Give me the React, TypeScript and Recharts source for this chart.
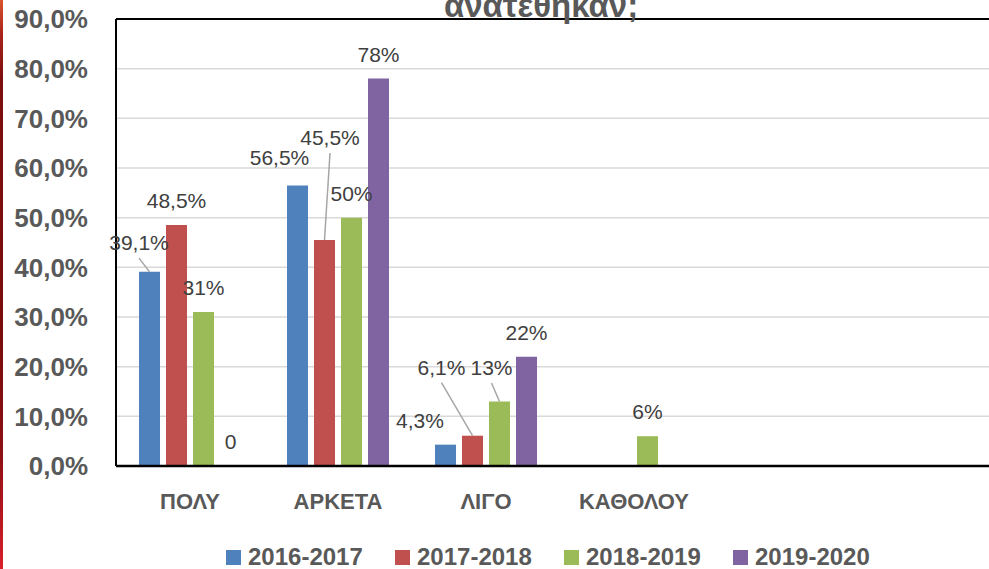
import React from 'react';
import { BarChart, Bar, XAxis, YAxis, CartesianGrid, ReferenceLine, LabelList, Legend } from 'recharts';

const categories = ['ΠΟΛΥ', 'ΑΡΚΕΤΑ', 'ΛΙΓΟ', 'ΚΑΘΟΛΟΥ', '', ' '];
const seriesNames = ['2016-2017', '2017-2018', '2018-2019', '2019-2020'];
const values2016 = [39.1, 56.5, 4.3, null, null, null];
const values2017 = [48.5, 45.5, 6.1, null, null, null];
const values2018 = [31, 50, 13, 6, null, null];
const values2019 = [0, 78, 22, null, null, null];
const yTicks = [0, 10, 20, 30, 40, 50, 60, 70, 80, 90];
const titleText = 'ανατεθηκαν;';

const seriesValues = [values2016, values2017, values2018, values2019];
const colors = ['#4f81bd', '#c0504d', '#9bbb59', '#8064a2'];
const FONT = '"Liberation Sans", Arial, sans-serif';

const data = categories.map((cat, i) => {
  const row: Record<string, any> = { cat };
  seriesNames.forEach((s, k) => {
    row[s] = seriesValues[k][i];
  });
  return row;
});

// manual label placements (style, moved labels with leader lines)
const labelShift: Record<string, { dx: number; dy: number; leader: boolean }> = {
  '0-0': { dx: -10.5, dy: -4.7, leader: true },
  '0-1': { dx: -18, dy: -3, leader: false },
  '0-2': { dx: -25.5, dy: 0, leader: false },
  '1-1': { dx: 5.5, dy: -78, leader: true },
  '1-2': { dx: -31, dy: -44, leader: true },
  '2-2': { dx: -8, dy: -9.4, leader: true },
};

const fmtLabel = (v: number) => {
  if (v === 0) return '0';
  if (Number.isInteger(v)) return `${v}%`;
  return `${String(v).replace('.', ',')}%`;
};

const fmtTick = (v: number) => `${v.toFixed(1).replace('.', ',')}%`;

const makeLabel = (seriesIdx: number) => (props: any) => {
  const { x, y, width, value, index } = props;
  if (value === null || value === undefined) return null;
  const cx = Number(x) + Number(width) / 2;
  const top = Number(y);
  const sh = labelShift[`${seriesIdx}-${index}`] || { dx: 0, dy: 0, leader: false };
  const tx = cx + sh.dx;
  const ty = top - 17 + sh.dy;
  return (
    <g>
      {sh.leader && (
        <line x1={tx} y1={ty + 8} x2={cx} y2={top} stroke="#a6a6a6" strokeWidth={1.5} />
      )}
      <text x={tx} y={ty} textAnchor="middle" fontSize={21} fill="#404040" fontFamily={FONT}>
        {fmtLabel(Number(value))}
      </text>
    </g>
  );
};

const zeroPoint = (value: any) => (value === 0 ? 0.01 : 0);

const renderLegend = () => (
  <div style={{ display: 'flex', paddingLeft: 226, fontFamily: FONT }}>
    {seriesNames.map((s, k) => (
      <div key={s} style={{ display: 'flex', alignItems: 'flex-start', width: 169, height: 24 }}>
        <div style={{ width: 15, height: 15, background: colors[k], marginTop: 5, marginRight: 7 }} />
        <span style={{ fontSize: 24, lineHeight: '24px', fontWeight: 'bold', color: '#595959', whiteSpace: 'nowrap' }}>
          {s}
        </span>
      </div>
    ))}
  </div>
);

export default function App() {
  return (
    <div style={{ position: 'absolute', left: 0, top: 0, width: 989, height: 569, overflow: 'hidden', background: '#fff' }}>
      <div
        style={{
          position: 'absolute',
          left: 0,
          top: 0,
          width: 3,
          height: 569,
          background: 'linear-gradient(to bottom, #d8552c 0%, #a8231b 6%, #7e0e0e 14%, #7a0c0c 60%, #8e0f14 80%, #d71f2a 100%)',
          zIndex: 2,
        }}
      />
      <BarChart
        width={1010}
        height={569}
        data={data}
        margin={{ top: 19, right: 6, bottom: 43, left: 0 }}
        barSize={21}
        barGap={6}
      >
        <CartesianGrid horizontal vertical={false} stroke="#d9d9d9" strokeWidth={1.5} />
        <XAxis
          dataKey="cat"
          height={60}
          tickLine={false}
          tickSize={0}
          tickMargin={27}
          axisLine={{ stroke: '#000', strokeWidth: 2.5 }}
          tick={{ fontSize: 22, fontWeight: 'bold', fill: '#595959', fontFamily: FONT }}
          interval={0}
        />
        <YAxis
          width={116}
          domain={[0, 90]}
          ticks={yTicks}
          tickFormatter={fmtTick}
          tickLine={false}
          tickSize={0}
          tickMargin={28}
          axisLine={{ stroke: '#000', strokeWidth: 2 }}
          tick={{ fontSize: 26, fontWeight: 'bold', fill: '#595959', fontFamily: FONT }}
          allowDataOverflow
        />
        <ReferenceLine y={90} stroke="#000" strokeWidth={2} />
        {seriesNames.map((s, k) => (
          <Bar key={s} dataKey={s} fill={colors[k]} isAnimationActive={false} minPointSize={zeroPoint}>
            <LabelList dataKey={s} content={makeLabel(k)} />
          </Bar>
        ))}
        <Legend
          verticalAlign="middle"
          layout="horizontal"
          content={renderLegend}
          wrapperStyle={{ position: 'absolute', left: 0, top: 545, width: 989, height: 24 }}
        />
      </BarChart>
      <svg style={{ position: 'absolute', left: 0, top: 0 }} width={989} height={40}>
        <text x={541} y={17} textAnchor="middle" fontSize={33} fontWeight="bold" fill="#595959" fontFamily={FONT}>
          {titleText}
        </text>
      </svg>
    </div>
  );
}
